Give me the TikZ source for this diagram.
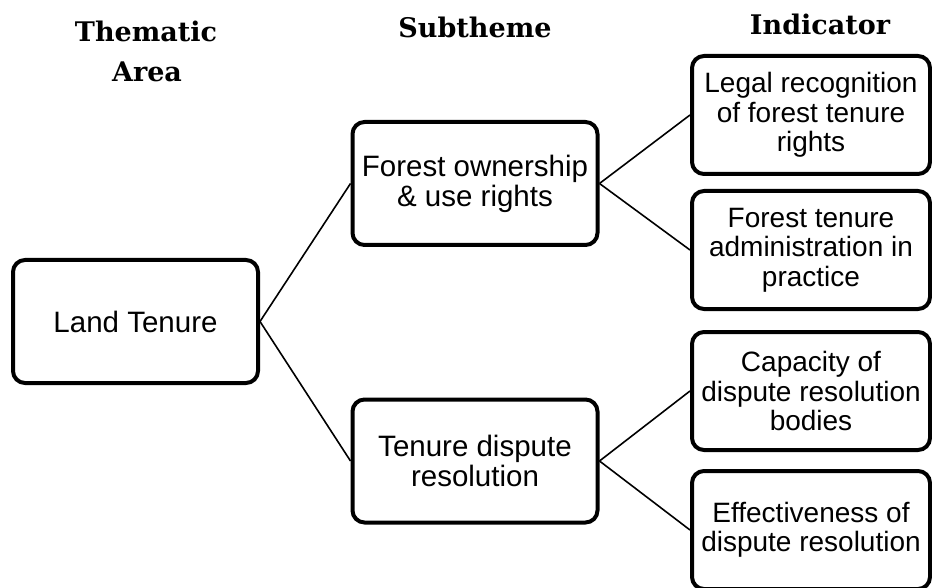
\documentclass[tikz,border=0pt]{standalone}
\usepackage{fontspec}
\setmainfont{Liberation Sans}
\newfontfamily\hdrfont{DejaVu Serif}
\begin{document}
\begin{tikzpicture}[x=1pt,y=-1pt,
  box/.style={draw,line width=4pt,rounded corners=12pt,align=center,inner sep=0pt,
    font=\fontsize{29.5}{30}\selectfont},
  lbox/.style={box,minimum width=245pt,minimum height=123pt},
  ibox/.style={box,minimum width=238pt,minimum height=118pt,font=\fontsize{28}{29.5}\selectfont},
  link/.style={line width=1.6pt},
  hdr/.style={font=\hdrfont\bfseries\fontsize{27}{30}\selectfont,anchor=base}]
\useasboundingbox (0,0) rectangle (932,588);
\clip (0,0) rectangle (932,588);
% headers
\node[hdr] (h1) at (146,42) {Thematic};
\node[hdr] (h2) at (147,82) {Area};
\node[hdr] (h3) at (475,38) {Subtheme};
\node[hdr] (h4) at (820,35) {Indicator};
% boxes
\node[lbox] (lt) at (135.5,321.5) {Land Tenure};
\node[lbox] (fo) at (475,183.5) {Forest ownership\\\& use rights};
\node[lbox] (td) at (475,461) {Tenure dispute\\resolution};
\node[ibox] (i1) at (811,115) {Legal recognition\\of forest tenure\\rights};
\node[ibox] (i2) at (811,250) {Forest tenure\\administration in\\practice};
\node[ibox] (i3) at (811,391) {Capacity of\\dispute resolution\\bodies};
\node[ibox] (i4) at (811,530) {Effectiveness of\\dispute resolution};
% connectors
\draw[link] (lt.east) -- (fo.west);
\draw[link] (lt.east) -- (td.west);
\draw[link] (fo.east) -- (i1.west);
\draw[link] (fo.east) -- (i2.west);
\draw[link] (td.east) -- (i3.west);
\draw[link] (td.east) -- (i4.west);
\end{tikzpicture}
\end{document}
